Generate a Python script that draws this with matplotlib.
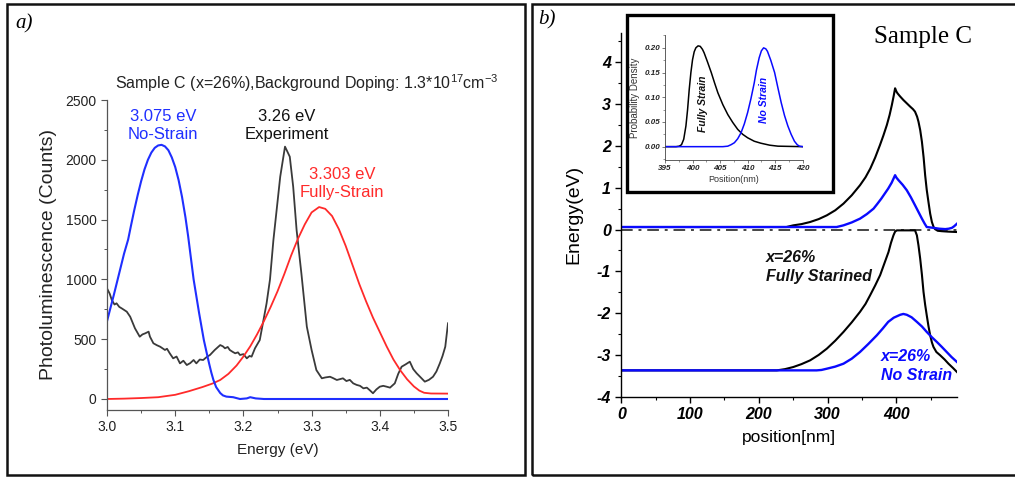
import matplotlib
matplotlib.use("Agg")
import matplotlib.pyplot as plt
from matplotlib.patches import Rectangle
from matplotlib.ticker import MultipleLocator, FormatStrFormatter

plt.rcParams["font.family"] = ["Liberation Sans", "DejaVu Sans"]
plt.rcParams["mathtext.fontset"] = "custom"
plt.rcParams["mathtext.rm"] = "Liberation Sans"
plt.rcParams["mathtext.default"] = "regular"
plt.rcParams["axes.unicode_minus"] = False

# ---------------- Panel a data: photoluminescence ----------------
nostrain_E = [3.000, 3.005, 3.010, 3.015, 3.020, 3.025, 3.031, 3.035, 3.040, 3.045,
              3.050, 3.055, 3.060, 3.065, 3.070, 3.075, 3.080, 3.085, 3.090, 3.095,
              3.100, 3.105, 3.110, 3.115, 3.119, 3.123, 3.127, 3.131, 3.135, 3.139,
              3.142, 3.146, 3.150, 3.153, 3.156, 3.160, 3.166, 3.170, 3.175, 3.185,
              3.195, 3.205, 3.210, 3.218, 3.230, 3.300, 3.400, 3.500]
nostrain_counts = [650, 760, 870, 985, 1100, 1215, 1333, 1445, 1580, 1705,
                   1820, 1920, 2000, 2060, 2100, 2120, 2125, 2112, 2080, 2020,
                   1940, 1830, 1690, 1520, 1360, 1180, 1000, 860, 720, 590,
                   493, 390, 290, 220, 160, 100, 50, 30, 20, 15,
                   0, 5, 15, 5, 0, 0, 0, 0]

fullstrain_E = [3.000, 3.025, 3.050, 3.075, 3.100, 3.120, 3.140, 3.155, 3.166, 3.178,
                3.190, 3.200, 3.210, 3.220, 3.230, 3.240, 3.250, 3.260, 3.270, 3.280,
                3.290, 3.300, 3.311, 3.320, 3.330, 3.340, 3.350, 3.360, 3.370, 3.380,
                3.390, 3.400, 3.410, 3.420, 3.430, 3.440, 3.450, 3.458, 3.465, 3.475,
                3.500]
fullstrain_counts = [0, 3, 8, 15, 35, 65, 100, 130, 159, 210,
                     280, 355, 440, 540, 650, 770, 900, 1045, 1200, 1340,
                     1460, 1560, 1605, 1590, 1530, 1420, 1280, 1120, 960, 815,
                     680, 560, 440, 330, 240, 165, 105, 70, 52, 46,
                     45]

exp_E = [3.000, 3.004, 3.007, 3.011, 3.014, 3.018, 3.0215, 3.025, 3.029, 3.034,
         3.041, 3.048, 3.052, 3.056, 3.061, 3.063, 3.068, 3.073, 3.078, 3.085,
         3.088, 3.092, 3.097, 3.102, 3.107, 3.112, 3.117, 3.122, 3.127, 3.131,
         3.136, 3.141, 3.146, 3.151, 3.158, 3.166, 3.170, 3.173, 3.177, 3.180,
         3.184, 3.188, 3.192, 3.195, 3.200, 3.205, 3.209, 3.212, 3.217, 3.224,
         3.234, 3.239, 3.244, 3.254, 3.261, 3.268, 3.273, 3.278, 3.285, 3.293,
         3.300, 3.307, 3.315, 3.320, 3.327, 3.331, 3.337, 3.341, 3.346, 3.351,
         3.356, 3.361, 3.366, 3.371, 3.376, 3.381, 3.385, 3.390, 3.395, 3.400,
         3.405, 3.410, 3.415, 3.422, 3.427, 3.432, 3.438, 3.444, 3.449, 3.454,
         3.459, 3.466, 3.472, 3.478, 3.483, 3.488, 3.492, 3.496, 3.500]
exp_counts = [925, 880, 828, 790, 800, 770, 758, 745, 730, 688,
              591, 521, 540, 549, 563, 521, 466, 450, 437, 410,
              420, 382, 340, 355, 298, 320, 284, 300, 326, 298,
              330, 326, 350, 368, 410, 451, 440, 424, 435, 410,
              395, 382, 390, 368, 375, 340, 360, 354, 424, 493,
              800, 1000, 1329, 1859, 2110, 2026, 1775, 1413, 1051, 605,
              410, 242, 173, 180, 186, 176, 159, 165, 173, 150,
              160, 131, 118, 110, 89, 95, 75, 48, 80, 103,
              110, 103, 95, 131, 210, 270, 290, 312, 250, 215,
              186, 145, 160, 186, 230, 298, 360, 437, 633]

labels_a = ["3.075 eV\nNo-Strain", "3.26 eV\nExperiment", "3.303 eV\nFully-Strain"]
label_a_x = [3.082, 3.264, 3.345]
label_a_y = [2283, 2283, 1806]
title_a = "Sample C (x=26%),Background Doping: 1.3*10$^{17}$cm$^{-3}$"

# ---------------- Panel b data: band diagram ----------------
cb_fs_pos = [0, 240, 250, 262, 274.5, 287, 298.8, 311, 323, 335, 347, 355, 362, 369,
             376, 381, 386, 390, 393.3, 396, 398, 400, 401.5, 405, 410, 415, 420, 424,
             427, 430, 432, 434.5, 437, 439.5, 441.7, 444, 446.5, 449, 451.5, 454, 456,
             460, 466, 475, 488]
cb_fs_E = [0.06, 0.06, 0.10, 0.13, 0.18, 0.25, 0.34, 0.46, 0.62, 0.82, 1.06, 1.25, 1.46, 1.72,
           2.02, 2.25, 2.50, 2.74, 2.98, 3.20, 3.38, 3.30, 3.26, 3.19, 3.10, 3.02, 2.94, 2.88,
           2.82, 2.70, 2.58, 2.38, 2.10, 1.72, 1.30, 0.95, 0.66, 0.38, 0.18, 0.06, 0.01,
           -0.03, -0.04, -0.05, -0.06]

cb_ns_pos = [0, 313, 323, 335, 347, 357, 366.7, 372, 378, 383, 388, 393, 398, 400, 403,
             409, 415, 421, 427, 432, 437, 441, 444, 449, 454, 462, 471, 476, 480.6, 484, 488]
cb_ns_E = [0.06, 0.06, 0.10, 0.17, 0.26, 0.37, 0.50, 0.61, 0.74, 0.86, 0.98, 1.12, 1.30, 1.24,
           1.18, 1.07, 0.94, 0.77, 0.58, 0.42, 0.26, 0.14, 0.06, 0.05, 0.04, 0.02, 0.01, 0.02,
           0.04, 0.08, 0.14]

vb_fs_pos = [0, 226, 238, 250, 262, 274.5, 287, 298.8, 311, 323, 335, 347, 355, 361.8, 369,
             376.3, 382, 388.4, 392, 395.6, 398, 400.5, 427, 429.7, 432, 434.5, 437, 439.3,
             441.7, 444, 446.5, 449, 451.5, 453.8, 458, 463.6, 470, 475.6, 482, 488]
vb_fs_E = [-3.37, -3.37, -3.34, -3.29, -3.22, -3.13, -3.00, -2.85, -2.66, -2.45, -2.22, -1.97,
           -1.78, -1.57, -1.34, -1.09, -0.83, -0.54, -0.32, -0.14, -0.05, -0.02, -0.02, -0.14,
           -0.38, -0.70, -1.08, -1.49, -1.80, -2.05, -2.31, -2.53, -2.70, -2.81, -2.93, -3.01,
           -3.11, -3.21, -3.31, -3.41]

vb_ns_pos = [0, 284, 291, 298.8, 311, 323, 335, 347, 359, 371.5, 380, 388, 396, 405.4, 410,
             415, 422, 429.7, 437, 444, 451, 458.7, 466, 473, 480, 488]
vb_ns_E = [-3.37, -3.37, -3.36, -3.33, -3.28, -3.21, -3.09, -2.93, -2.74, -2.53, -2.37, -2.21,
           -2.11, -2.04, -2.02, -2.04, -2.10, -2.21, -2.32, -2.45, -2.57, -2.69, -2.81, -2.93,
           -3.05, -3.17]

fermi_pos = [0, 488]
fermi_E = [0, 0]

labels_b = ["x=26%\nFully Starined", "x=26%\nNo Strain"]
label_b_x = [210.5, 377.7]
label_b_y = [-0.90, -3.27]

# ---------------- Inset data: probability density ----------------
pd_fs_pos = [395, 397.0, 397.6, 398.0, 398.4, 398.8, 399.1, 399.4, 399.7, 400.0, 400.3,
             400.6, 401.0, 401.4, 401.8, 402.1, 402.7, 403.4, 404.0, 404.6, 405.5, 406.4,
             407.3, 408.2, 409.1, 410.0, 411.2, 412.4, 414.0, 415.5, 420]
pd_fs_val = [0, 0, 0.001, 0.004, 0.015, 0.042, 0.075, 0.116, 0.150, 0.176, 0.192,
             0.200, 0.204, 0.203, 0.197, 0.190, 0.172, 0.150, 0.129, 0.109, 0.085, 0.065,
             0.049, 0.035, 0.025, 0.018, 0.011, 0.007, 0.003, 0.001, 0]
pd_ns_pos = [395, 405.5, 406.4, 407.0, 407.6, 408.2, 408.8, 409.4, 410.0, 410.6, 411.2,
             411.6, 412.1, 412.5, 412.9, 413.3, 413.6, 414.2, 414.9, 415.5, 416.1, 416.7,
             417.3, 417.9, 418.5, 419.0, 419.4, 420]
pd_ns_val = [0, 0, 0.001, 0.004, 0.008, 0.016, 0.028, 0.046, 0.069, 0.097, 0.129,
             0.155, 0.180, 0.194, 0.200, 0.198, 0.193, 0.175, 0.150, 0.119, 0.089, 0.063,
             0.042, 0.025, 0.011, 0.004, 0.001, 0]

# ---------------- Figure ----------------
W, H = 1015, 478
fig = plt.figure(figsize=(W / 100, H / 100), dpi=100)


def fx(px):
    return px / W


def fy(py):
    return 1 - py / H


# Panel frames
fig.add_artist(Rectangle((fx(7), fy(475)), (525 - 7) / W, (475 - 4) / H,
                         transform=fig.transFigure, fill=False, lw=1.8, ec="#111111"))
fig.add_artist(Rectangle((fx(531.7), fy(475)), (1025 - 531.7) / W, (475 - 4) / H,
                         transform=fig.transFigure, fill=False, lw=1.8, ec="#111111"))

# ---- Panel a ----
axa = fig.add_axes([fx(107), fy(410), (448 - 107) / W, (410 - 100) / H])
axa.plot(exp_E, exp_counts, color="#3a3a3a", lw=1.3)
axa.plot(fullstrain_E, fullstrain_counts, color="#ff2a2a", lw=1.3)
axa.plot(nostrain_E, nostrain_counts, color="#1f2fff", lw=1.5)
axa.set_xlim(3.0, 3.5)
axa.set_ylim(-92, 2500)
for s in ["top", "right"]:
    axa.spines[s].set_visible(False)
for s in ["left", "bottom"]:
    axa.spines[s].set_color("#555555")
    axa.spines[s].set_linewidth(0.9)
axa.xaxis.set_major_locator(MultipleLocator(0.1))
axa.xaxis.set_minor_locator(MultipleLocator(0.05))
axa.yaxis.set_major_locator(MultipleLocator(500))
axa.yaxis.set_minor_locator(MultipleLocator(250))
axa.xaxis.set_major_formatter(FormatStrFormatter("%.1f"))
axa.tick_params(which="major", direction="out", length=4, width=0.8, colors="#555555",
                labelcolor="#222222", labelsize=10)
axa.tick_params(which="minor", direction="out", length=2.5, width=0.7, colors="#555555")
axa.set_xlabel("Energy (eV)", fontsize=11, color="#222222", labelpad=6)
axa.set_ylabel("Photoluminescence (Counts)", fontsize=14, color="#222222", labelpad=6)
label_colors_a = ["#1f2fff", "#111111", "#ff2a2a"]
for t, x, y, c in zip(labels_a, label_a_x, label_a_y, label_colors_a):
    axa.text(x, y, t, color=c, fontsize=12, ha="center", va="center", linespacing=1.25)
fig.text(fx(115), fy(89), title_a, fontsize=11.5, ha="left", va="baseline", color="#222222")
fig.text(fx(24), fy(24), "a)", fontsize=15, style="italic", family="Liberation Serif",
         ha="center", va="center")

# ---- Panel b ----
axb = fig.add_axes([fx(621.3), fy(396.7), (957 - 621.3) / W, (396.7 - 33.1) / H])
axb.plot(fermi_pos, fermi_E, color="#444444", lw=1.4, ls=(0, (6, 3, 1.5, 3)))
axb.plot(cb_fs_pos, cb_fs_E, color="black", lw=1.5)
axb.plot(vb_fs_pos, vb_fs_E, color="black", lw=1.5)
axb.plot(cb_ns_pos, cb_ns_E, color="#0a0aff", lw=1.7)
axb.plot(vb_ns_pos, vb_ns_E, color="#0a0aff", lw=1.7)
axb.set_xlim(0, 488)
axb.set_ylim(-4, 4.7)
for s in ["top", "right"]:
    axb.spines[s].set_visible(False)
for s in ["left", "bottom"]:
    axb.spines[s].set_linewidth(1.0)
axb.xaxis.set_major_locator(MultipleLocator(100))
axb.xaxis.set_minor_locator(MultipleLocator(50))
axb.yaxis.set_major_locator(MultipleLocator(1))
axb.yaxis.set_minor_locator(MultipleLocator(0.5))
axb.set_yticks([-4, -3, -2, -1, 0, 1, 2, 3, 4])
axb.tick_params(which="major", direction="out", length=4, width=1, labelsize=11.5)
axb.tick_params(which="minor", direction="out", length=2.5, width=0.8)
for lbl in axb.get_xticklabels() + axb.get_yticklabels():
    lbl.set_fontweight("bold")
    lbl.set_fontstyle("italic")
axb.set_xlabel("position[nm]", fontsize=12.5, labelpad=6)
axb.set_ylabel("Energy(eV)", fontsize=14, labelpad=10)
label_colors_b = ["#111111", "#0a0aff"]
for t, x, y, c in zip(labels_b, label_b_x, label_b_y, label_colors_b):
    axb.text(x, y, t, color=c, fontsize=11.5, fontweight="bold", style="italic",
             ha="left", va="center", linespacing=1.35)
fig.text(fx(923), fy(37), "Sample C", fontsize=18, family="Liberation Serif",
         ha="center", va="center")
fig.text(fx(547), fy(20), "b)", fontsize=15, style="italic", family="Liberation Serif",
         ha="center", va="center")

# ---- Inset ----
fig.add_artist(Rectangle((fx(626.7), fy(191.7)), (833.3 - 626.7) / W, (191.7 - 15) / H,
                         transform=fig.transFigure, facecolor="white", edgecolor="black",
                         lw=2.4, zorder=4))
axi = fig.add_axes([fx(665), fy(160), (802.7 - 665) / W, (160 - 35) / H])
axi.set_zorder(5)
axi.patch.set_alpha(0)
axi.plot(pd_fs_pos, pd_fs_val, color="black", lw=1.1)
axi.plot(pd_ns_pos, pd_ns_val, color="#0a0aff", lw=1.1)
axi.set_xlim(395, 420)
axi.set_ylim(-0.027, 0.226)
for s in ["top", "right"]:
    axi.spines[s].set_visible(False)
for s in ["left", "bottom"]:
    axi.spines[s].set_linewidth(0.6)
    axi.spines[s].set_color("#444444")
axi.xaxis.set_major_locator(MultipleLocator(5))
axi.xaxis.set_minor_locator(MultipleLocator(2.5))
axi.yaxis.set_major_locator(MultipleLocator(0.05))
axi.yaxis.set_minor_locator(MultipleLocator(0.025))
axi.yaxis.set_major_formatter(FormatStrFormatter("%.2f"))
axi.tick_params(which="major", direction="out", length=2, width=0.5, labelsize=5.8, pad=1.5,
                colors="#444444", labelcolor="#222222")
axi.tick_params(which="minor", direction="out", length=1.2, width=0.4, colors="#444444")
for lbl in axi.get_xticklabels() + axi.get_yticklabels():
    lbl.set_fontweight("bold")
    lbl.set_fontstyle("italic")
axi.set_xlabel("Position(nm)", fontsize=6.5, color="#333333", labelpad=2)
axi.set_ylabel("Probability Density", fontsize=7, color="#333333", labelpad=3)
axi.text(401.9, 0.087, "Fully Strain", rotation=90, fontsize=7.5, fontweight="bold",
         style="italic", color="#111111", ha="center", va="center")
axi.text(413.0, 0.094, "No Strain", rotation=90, fontsize=7.5, fontweight="bold",
         style="italic", color="#0a0aff", ha="center", va="center")

fig.savefig("out.png", dpi=100)
